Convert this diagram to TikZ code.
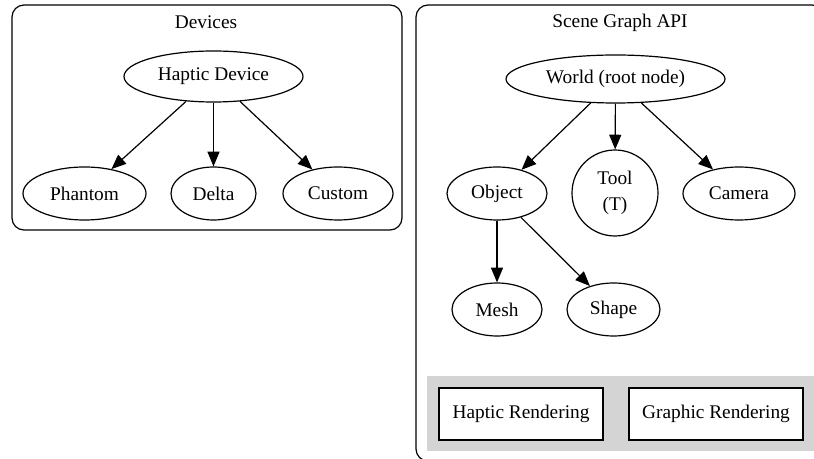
\documentclass[tikz,border=0pt]{standalone}
\usepackage{fontspec}
\setmainfont{Liberation Serif}
\usetikzlibrary{arrows.meta,shapes.geometric}

\tikzset{
  ell/.style={draw, ellipse, inner sep=0pt, line width=0.9pt,
    font=\fontsize{14.5}{17}\selectfont},
  rbox/.style={draw, rectangle, inner sep=0pt, line width=0.9pt, fill=white,
    font=\fontsize{14.5}{17}\selectfont},
  cluster/.style={draw, line width=0.9pt, rounded corners=9pt},
  ctitle/.style={font=\fontsize{14.5}{17}\selectfont, inner sep=0pt},
  edge/.style={line width=0.9pt, -{Triangle[length=11pt,width=9pt]}},
}

\begin{document}
\begin{tikzpicture}[x=0.75pt, y=-0.75pt]
  \useasboundingbox (0,0) rectangle (814,459);
  \clip (0,0) rectangle (814,459);

  % Devices cluster
  \draw[cluster] (12,5) rectangle (402,230);
  \node[ctitle] (devtitle) at (206,22) {Devices};
  \node[ell, minimum width=134.25pt, minimum height=38.25pt] (haptic) at (213.5,76.5) {Haptic Device};
  \node[ell, minimum width=92.25pt, minimum height=39.75pt] (phantom) at (84.5,193.5) {Phantom};
  \node[ell, minimum width=63.75pt, minimum height=39.75pt] (delta) at (213.5,193.5) {Delta};
  \node[ell, minimum width=82.5pt, minimum height=39.75pt] (custom) at (338,193.5) {Custom};
  \draw[edge] (haptic) -- (phantom);
  \draw[edge] (haptic) -- (delta);
  \draw[edge] (haptic) -- (custom);

  % Scene graph cluster
  \draw[cluster] (416,5) rectangle (824,461);
  \node[ctitle] (sgtitle) at (620,23) {Scene Graph API};
  \node[ell, minimum width=164.25pt, minimum height=36pt] (world) at (615.5,79) {World (root node)};
  \node[ell, minimum width=75pt, minimum height=39.75pt] (object) at (497,193.5) {Object};
  \node[ell, circle, minimum size=64.5pt, align=center,
        font=\fontsize{14.5}{19}\selectfont] (tool) at (615,193) {Tool\\(T)};
  \node[ell, minimum width=84pt, minimum height=39.75pt] (camera) at (739,193.5) {Camera};
  \node[ell, minimum width=67.5pt, minimum height=39.75pt] (mesh) at (497,309.5) {Mesh};
  \node[ell, minimum width=69.75pt, minimum height=39.75pt] (shape) at (613.5,309.5) {Shape};
  \draw[edge] (world) -- (object);
  \draw[edge] (world) -- (tool);
  \draw[edge] (world) -- (camera);
  \draw[edge] (object) -- (mesh);
  \draw[edge] (object) -- (shape);

  % Rendering strip
  \fill[black!17] (427,376) rectangle (830,451);
  \node[rbox, minimum width=123pt, minimum height=39pt] (hrender) at (521,414) {Haptic Rendering};
  \node[rbox, minimum width=130.5pt, minimum height=39pt] (grender) at (716,414) {Graphic Rendering};
\end{tikzpicture}
\end{document}
